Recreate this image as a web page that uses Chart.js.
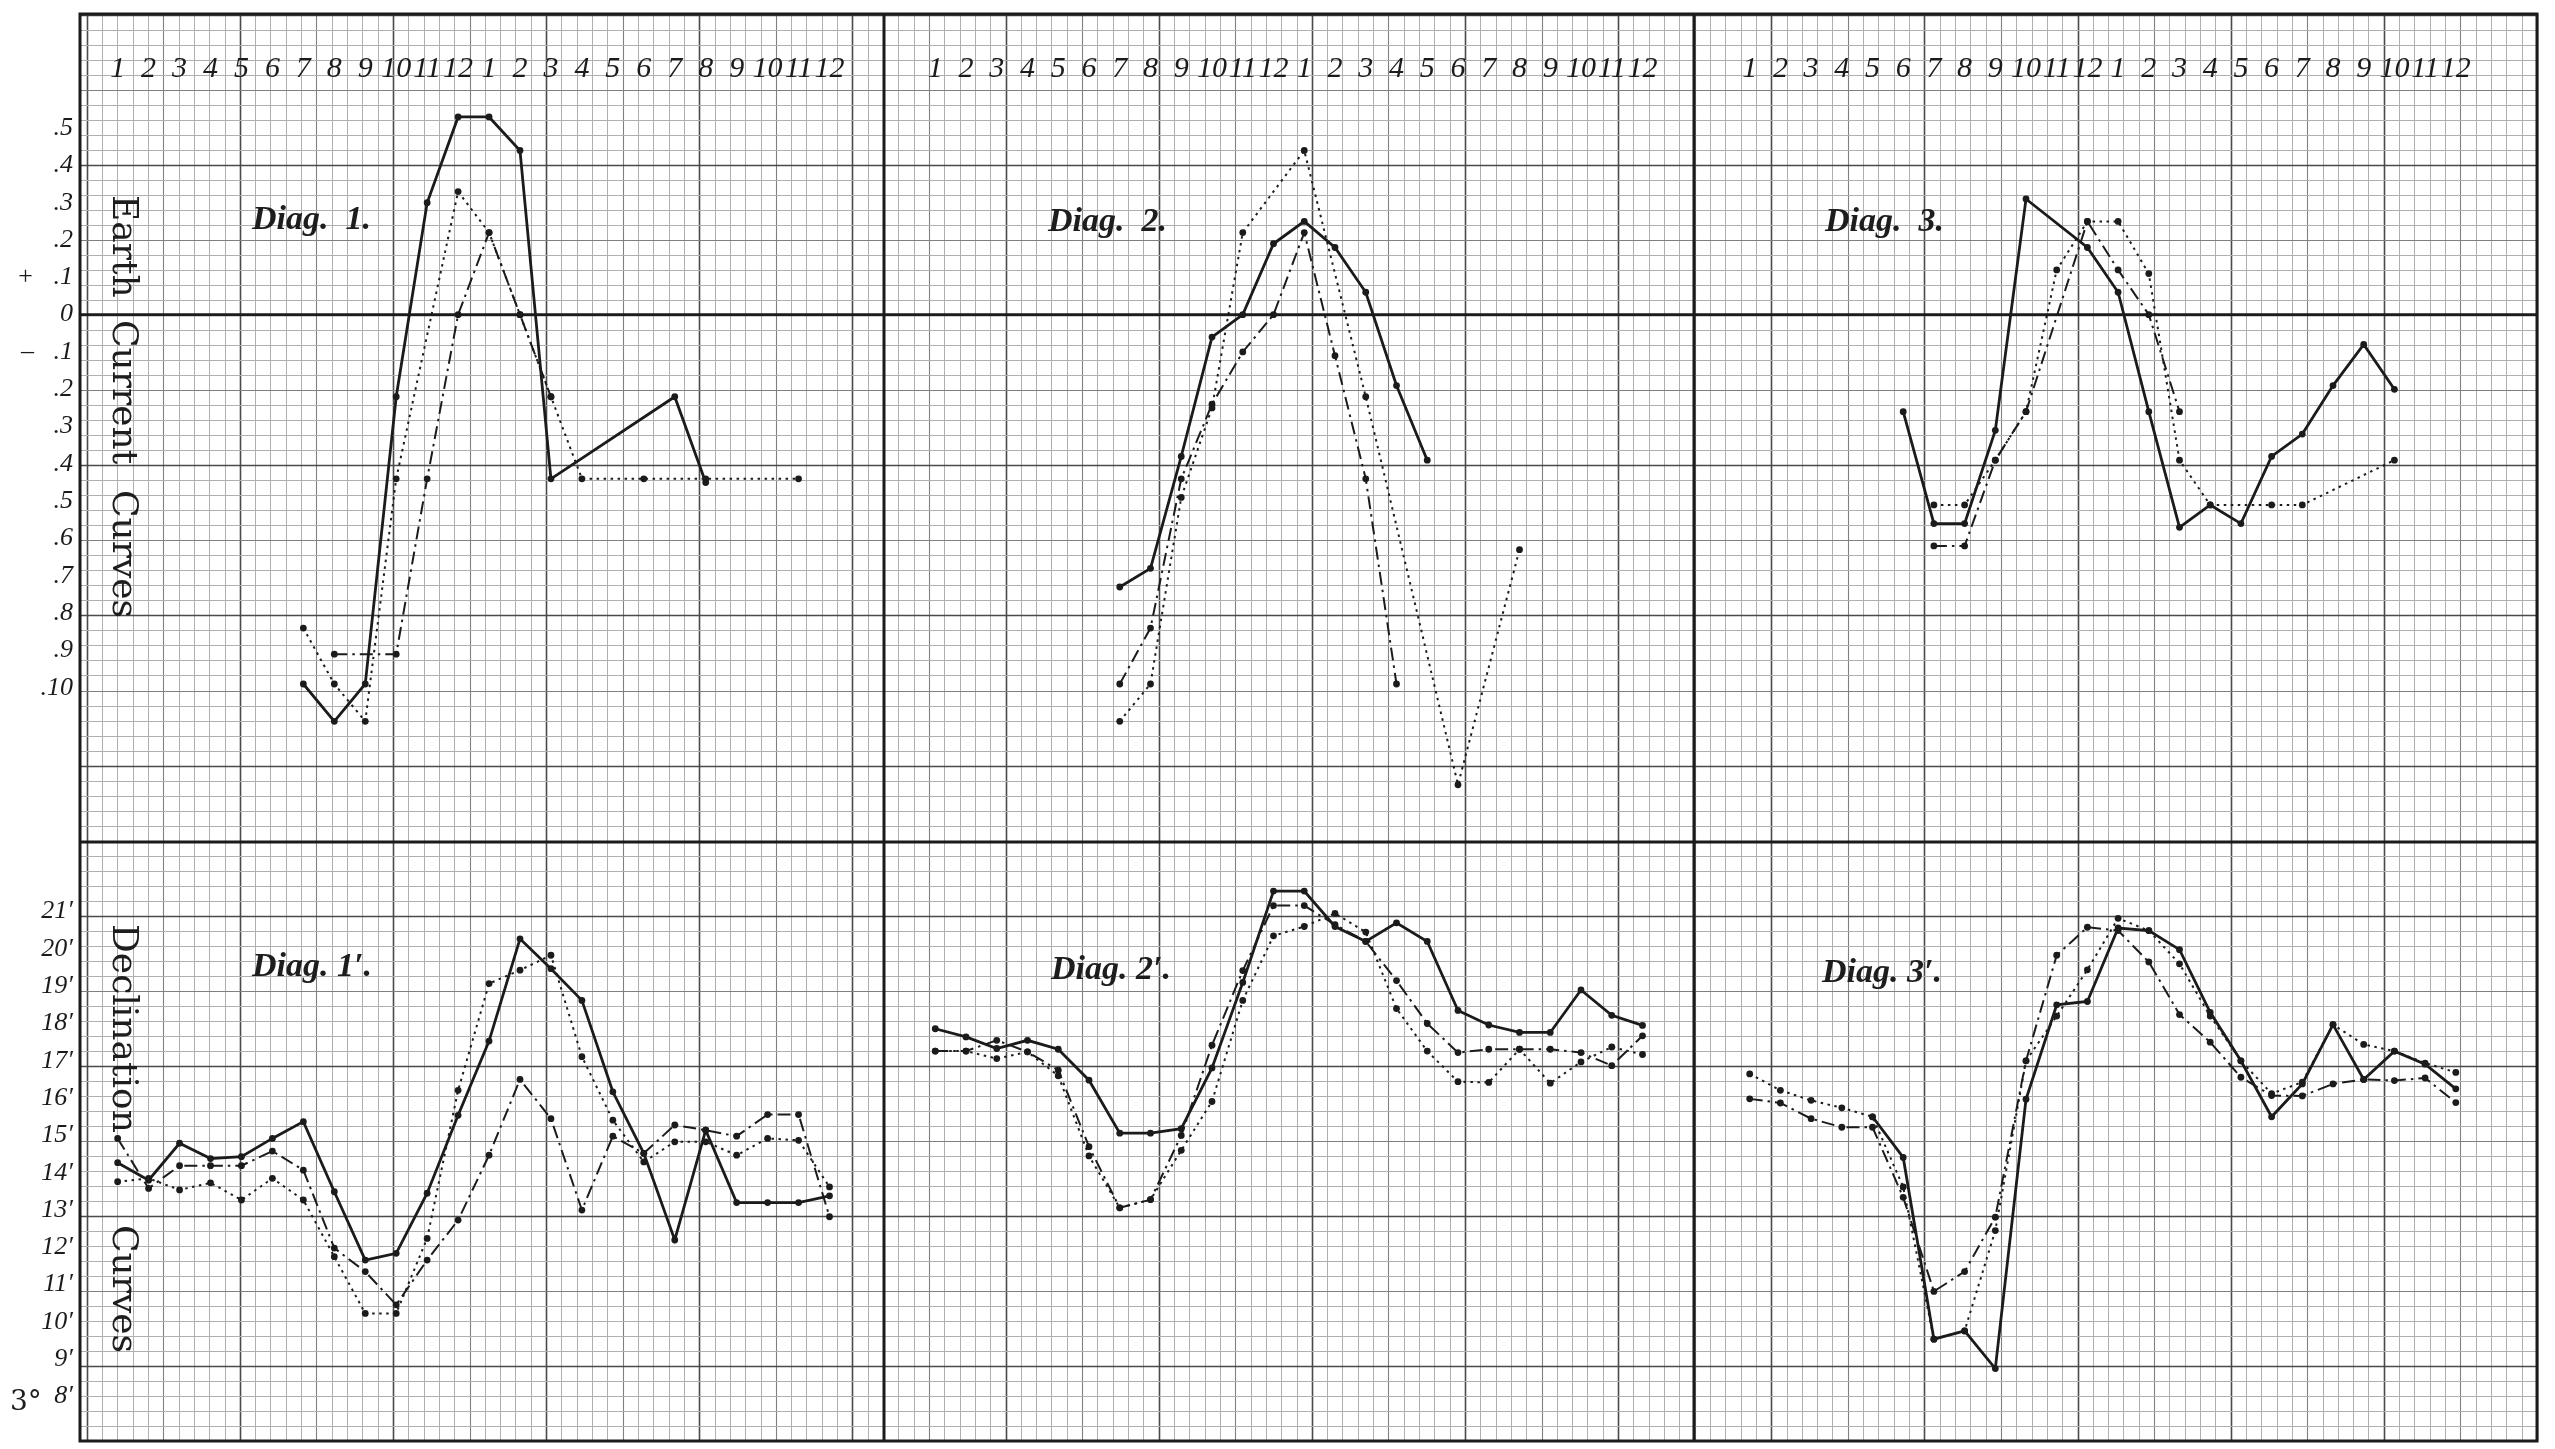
<!DOCTYPE html>
<html>
<head>
<meta charset="utf-8">
<script src="https://cdn.jsdelivr.net/npm/chart.js@4.4.1/dist/chart.umd.min.js"></script>
<style>
  html, body { margin: 0; padding: 0; background: #fff; }
  #sheet { position: relative; width: 2555px; height: 1449px; overflow: hidden; background: #fff; }
  #sheet canvas { position: absolute; left: 0; top: 0; }
  .lbl { position: absolute; white-space: nowrap; line-height: 1; color: #1d1d1d; }
  .diag { font: italic bold 34px 'Liberation Serif', serif; }
  .vert { writing-mode: vertical-rl; font: 36px 'DejaVu Serif', serif; }
  .deg { font: 28px 'DejaVu Serif', serif; }
</style>
</head>
<body>
<div id="sheet">
  <canvas id="curves" width="2555" height="1449"></canvas>

  <div class="lbl diag" style="left:252px;top:199px">Diag.&nbsp; 1.</div>
  <div class="lbl diag" style="left:1048px;top:201px">Diag.&nbsp; 2.</div>
  <div class="lbl diag" style="left:1825px;top:201px">Diag.&nbsp; 3.</div>
  <div class="lbl diag" style="left:252px;top:946px">Diag. 1′.</div>
  <div class="lbl diag" style="left:1051px;top:949px">Diag. 2′.</div>
  <div class="lbl diag" style="left:1822px;top:952px">Diag. 3′.</div>

  <div class="lbl vert" style="left:105px;top:195px">Earth</div>
  <div class="lbl vert" style="left:105px;top:320px">Current</div>
  <div class="lbl vert" style="left:105px;top:490px">Curves</div>
  <div class="lbl vert" style="left:105px;top:924px">Declination</div>
  <div class="lbl vert" style="left:105px;top:1225px">Curves</div>
  <div class="lbl deg" style="left:10px;top:1384px">3°</div>
</div>

<script>
// hours of the day, 1 a.m. ... 12 midnight
const hours = [1, 2, 3, 4, 5, 6, 7, 8, 9, 10, 11, 12, 13, 14, 15, 16, 17, 18, 19, 20, 21, 22, 23, 24];
const hourTickLabels = ['1', '2', '3', '4', '5', '6', '7', '8', '9', '10', '11', '12',
                        '1', '2', '3', '4', '5', '6', '7', '8', '9', '10', '11', '12'];

// earth current scale (left, top row)
const earthTickValues = [0.5, 0.4, 0.3, 0.2, 0.1, 0, -0.1, -0.2, -0.3, -0.4, -0.5, -0.6, -0.7, -0.8, -0.9, -1.0];
const earthTickLabels = ['.5', '.4', '.3', '.2', '+\u2002 .1', '0', '–\u2002 .1', '.2', '.3', '.4',
                         '.5', '.6', '.7', '.8', '.9', '.10'];

// declination scale (left, bottom row), minutes past 3°
const declTickValues = [21, 20, 19, 18, 17, 16, 15, 14, 13, 12, 11, 10, 9, 8];
const declTickLabels = ['21′', '20′', '19′', '18′', '17′', '16′', '15′', '14′', '13′', '12′', '11′', '10′', '9′', '8′'];

// ---- Earth current curves (one value per hour, null = no reading) ----
const diag1Solid   = [null, null, null, null, null, null, -0.99, -1.09, -0.99, -0.22, 0.30, 0.53, 0.53, 0.44, -0.44, null, null, null, -0.22, -0.45, null, null, null, null];
const diag1Dotted  = [null, null, null, null, null, null, -0.84, -0.99, -1.09, -0.44, null, 0.33, 0.22, 0.0, -0.22, -0.44, null, -0.44, null, -0.44, null, null, -0.44, null];
const diag1DashDot = [null, null, null, null, null, null, null, -0.91, null, -0.91, -0.44, 0.0, 0.22, 0.0, -0.22, null, null, null, null, null, null, null, null, null];

const diag2Solid   = [null, null, null, null, null, null, -0.73, -0.68, -0.38, -0.06, 0.0, 0.19, 0.25, 0.18, 0.06, -0.19, -0.39, null, null, null, null, null, null, null];
const diag2Dotted  = [null, null, null, null, null, null, -1.09, -0.99, -0.49, -0.25, 0.22, null, 0.44, null, -0.22, null, null, -1.26, null, -0.63, null, null, null, null];
const diag2DashDot = [null, null, null, null, null, null, -0.99, -0.84, -0.44, -0.24, -0.10, 0.0, 0.22, -0.11, -0.44, -0.99, null, null, null, null, null, null, null, null];

const diag3Solid   = [null, null, null, null, null, -0.26, -0.56, -0.56, -0.31, 0.31, null, 0.18, 0.06, -0.26, -0.57, -0.51, -0.56, -0.38, -0.32, -0.19, -0.08, -0.20, null, null];
const diag3Dotted  = [null, null, null, null, null, null, -0.51, -0.51, -0.39, -0.26, 0.12, 0.25, 0.25, 0.11, -0.39, -0.51, null, -0.51, -0.51, null, null, -0.39, null, null];
const diag3DashDot = [null, null, null, null, null, null, -0.62, -0.62, -0.39, -0.26, null, 0.25, 0.12, 0.0, -0.26, null, null, null, null, null, null, null, null, null];

// ---- Declination curves (minutes) ----
const diag1pSolid   = [14.27, 13.80, 14.79, 14.38, 14.43, 14.92, 15.37, 13.49, 11.66, 11.84, 13.45, 15.54, 17.53, 20.27, 19.47, 18.62, 16.17, 14.52, 12.20, 15.14, 13.20, 13.20, 13.20, 13.38];
const diag1pDotted  = [13.76, 13.85, 13.54, 13.73, 13.27, 13.85, 13.27, 11.75, 10.23, 10.23, 12.24, 16.21, 19.07, 19.43, 19.83, 17.11, 15.41, 14.29, 14.83, 14.83, 14.47, 14.92, 14.87, 13.62];
const diag1pDashDot = [14.92, 13.58, 14.19, 14.19, 14.19, 14.58, 14.07, 11.98, 11.35, 10.46, 11.66, 12.73, 14.47, 16.50, 15.45, 13.00, 14.98, 14.52, 15.28, 15.14, 14.98, 15.56, 15.56, 12.82];

const diag2pSolid   = [17.86, 17.64, 17.33, 17.55, 17.31, 16.48, 15.06, 15.06, 15.18, 16.81, 19.10, 21.55, 21.55, 20.60, 20.20, 20.70, 20.20, 18.35, 17.96, 17.76, 17.76, 18.90, 18.22, 17.95];
const diag2pDotted  = [17.26, 17.26, 17.06, 17.24, 16.60, 14.45, 13.06, 13.28, 14.60, 15.91, 18.62, 20.35, 20.60, 20.95, 20.45, 18.40, 17.26, 16.44, 16.42, 17.31, 16.40, 16.97, 17.37, 17.17];
const diag2pDashDot = [17.26, 17.26, 17.55, 17.24, 16.75, 14.70, 13.06, 13.28, 15.00, 17.42, 19.42, 21.16, 21.16, 20.65, 20.20, 19.15, 18.00, 17.22, 17.31, 17.31, 17.31, 17.22, 16.87, 17.67];

const diag3pSolid   = [null, null, null, null, 15.50, 14.41, 9.54, 9.76, 8.75, 15.97, 18.50, 18.59, 20.56, 20.49, 19.98, 18.30, 17.00, 15.50, 16.38, 17.97, 16.50, 17.26, 16.91, 16.25];
const diag3pDotted  = [16.65, 16.21, 15.94, 15.74, 15.50, 13.62, 9.54, 9.76, 12.45, 17.00, 18.20, 19.44, 20.82, 20.49, 19.60, 18.20, 17.00, 16.12, 16.43, 17.97, 17.44, 17.26, 16.94, 16.69];
const diag3pDashDot = [15.98, 15.87, 15.45, 15.22, 15.22, 13.34, 10.82, 11.35, 12.81, 17.00, 19.83, 20.58, 20.49, 19.65, 18.24, 17.50, 16.56, 16.07, 16.06, 16.38, 16.50, 16.47, 16.54, 15.88];

// ---- sheet geometry (pixels) ----
const INK = '#1b1b1b';
const FRAME = { left: 80, top: 14, right: 2537, bottom: 1441 };
const ROW_SPLIT = 842;
const COL_SPLITS = [884, 1694];
const panelZeroX = [86.7, 904.5, 1719];     // where hour 0 falls in each column
const panelHourPx = [30.95, 30.75, 30.7];
const EARTH_ZERO_Y = 315, EARTH_PX = 375.5;  // 0.1 -> 37.55 px
const DECL_REF = 13, DECL_REF_Y = 1216.2, DECL_PX = 37.55;
const HOUR_AXIS_Y = 50;
const LABEL_RIGHT_X = 73;
const GRID = { x0: 86.7, cellX: 15.314, y0: 315, cellY: 15.02 };

function setRule(ctx, i) {
  const k = ((i % 10) + 10) % 10;
  if (k === 0) { ctx.strokeStyle = '#4a4a4a'; ctx.lineWidth = 1.6; }
  else if (k === 5) { ctx.strokeStyle = '#808080'; ctx.lineWidth = 1.1; }
  else { ctx.strokeStyle = '#b0b0b0'; ctx.lineWidth = 1; }
}

function rule(ctx, x1, y1, x2, y2) {
  ctx.beginPath(); ctx.moveTo(x1, y1); ctx.lineTo(x2, y2); ctx.stroke();
}

// squared paper + the heavy rules
const paperPlugin = {
  id: 'paper',
  beforeDraw(chart) {
    const ctx = chart.ctx;
    ctx.save();
    ctx.fillStyle = '#ffffff';
    ctx.fillRect(0, 0, chart.width, chart.height);

    for (let i = Math.ceil((FRAME.left - GRID.x0) / GRID.cellX); GRID.x0 + i * GRID.cellX < FRAME.right; i++) {
      const x = Math.round(GRID.x0 + i * GRID.cellX) + 0.5;
      setRule(ctx, i);
      rule(ctx, x, FRAME.top, x, FRAME.bottom);
    }
    for (let j = Math.ceil((FRAME.top - GRID.y0) / GRID.cellY); GRID.y0 + j * GRID.cellY < FRAME.bottom; j++) {
      const y = Math.round(GRID.y0 + j * GRID.cellY) + 0.5;
      setRule(ctx, j);
      rule(ctx, FRAME.left, y, FRAME.right, y);
    }

    ctx.strokeStyle = INK;
    ctx.lineWidth = 3;
    ctx.strokeRect(FRAME.left, FRAME.top, FRAME.right - FRAME.left, FRAME.bottom - FRAME.top);
    rule(ctx, FRAME.left, ROW_SPLIT, FRAME.right, ROW_SPLIT);
    COL_SPLITS.forEach(x => rule(ctx, x, FRAME.top, x, FRAME.bottom));
    // zero line of the earth current curves
    const y0 = chart.scales.yE.getPixelForValue(0);
    ctx.lineWidth = 2.6;
    rule(ctx, FRAME.left, y0, FRAME.right, y0);
    ctx.restore();
  }
};

const STYLES = {
  solid:   { borderWidth: 2.8, borderDash: [] },
  dotted:  { borderWidth: 2.0, borderDash: [2.5, 4.5] },
  dashDot: { borderWidth: 2.0, borderDash: [13, 5, 2.5, 5] }
};

function series(values, style, xAxisID, yAxisID) {
  return {
    data: hours.map((h, i) => ({ x: h, y: values[i] })).filter(p => p.y !== null),
    xAxisID: xAxisID,
    yAxisID: yAxisID,
    borderColor: INK,
    backgroundColor: INK,
    pointBackgroundColor: INK,
    pointBorderWidth: 0,
    pointRadius: 3.4,
    pointHoverRadius: 3.4,
    tension: 0,
    fill: false,
    ...STYLES[style]
  };
}

const earthY = v => (EARTH_ZERO_Y - v) / EARTH_PX;   // pixel -> earth value
const tickFont = { family: "'Liberation Serif', serif", size: 26, style: 'italic' };

function hourAxis(p) {
  return {
    type: 'linear', axis: 'x', bounds: 'data',
    min: (FRAME.left - panelZeroX[p]) / panelHourPx[p],
    max: (FRAME.right - panelZeroX[p]) / panelHourPx[p],
    position: { yE: earthY(HOUR_AXIS_Y) },
    grid: { display: false, drawTicks: false },
    border: { display: false },
    afterBuildTicks: s => { s.ticks = hours.map(h => ({ value: h })); },
    ticks: {
      autoSkip: false, maxRotation: 0, padding: 0, color: INK,
      font: { family: "'Liberation Serif', serif", size: 30, style: 'italic' },
      callback: (v, i) => hourTickLabels[i]
    }
  };
}

const labelX = (LABEL_RIGHT_X - panelZeroX[0]) / panelHourPx[0];

const datasets = [
  series(diag1Dotted, 'dotted', 'x1', 'yE'),
  series(diag1DashDot, 'dashDot', 'x1', 'yE'),
  series(diag1Solid, 'solid', 'x1', 'yE'),
  series(diag2Dotted, 'dotted', 'x2', 'yE'),
  series(diag2DashDot, 'dashDot', 'x2', 'yE'),
  series(diag2Solid, 'solid', 'x2', 'yE'),
  series(diag3Dotted, 'dotted', 'x3', 'yE'),
  series(diag3DashDot, 'dashDot', 'x3', 'yE'),
  series(diag3Solid, 'solid', 'x3', 'yE'),
  series(diag1pDotted, 'dotted', 'x1', 'yD'),
  series(diag1pDashDot, 'dashDot', 'x1', 'yD'),
  series(diag1pSolid, 'solid', 'x1', 'yD'),
  series(diag2pDotted, 'dotted', 'x2', 'yD'),
  series(diag2pDashDot, 'dashDot', 'x2', 'yD'),
  series(diag2pSolid, 'solid', 'x2', 'yD'),
  series(diag3pDotted, 'dotted', 'x3', 'yD'),
  series(diag3pDashDot, 'dashDot', 'x3', 'yD'),
  series(diag3pSolid, 'solid', 'x3', 'yD')
];

new Chart(document.getElementById('curves'), {
  type: 'line',
  data: { datasets: datasets },
  options: {
    responsive: false,
    devicePixelRatio: 1,
    animation: false,
    events: [],
    layout: {
      padding: { left: FRAME.left, top: FRAME.top, right: 2555 - FRAME.right, bottom: 1449 - FRAME.bottom }
    },
    plugins: { legend: { display: false }, tooltip: { enabled: false }, title: { display: false } },
    scales: {
      x1: hourAxis(0),
      x2: hourAxis(1),
      x3: hourAxis(2),
      yE: {
        type: 'linear', axis: 'y', bounds: 'data',
        min: earthY(FRAME.bottom), max: earthY(FRAME.top),
        position: { x1: labelX },
        grid: { display: false, drawTicks: false },
        border: { display: false },
        afterBuildTicks: s => { s.ticks = earthTickValues.map(v => ({ value: v })); },
        ticks: { autoSkip: false, padding: 0, color: INK, font: tickFont, callback: (v, i) => earthTickLabels[i] }
      },
      yD: {
        type: 'linear', axis: 'y', bounds: 'data',
        min: DECL_REF - (FRAME.bottom - DECL_REF_Y) / DECL_PX,
        max: DECL_REF + (DECL_REF_Y - FRAME.top) / DECL_PX,
        position: { x1: labelX },
        grid: { display: false, drawTicks: false },
        border: { display: false },
        afterBuildTicks: s => { s.ticks = declTickValues.map(v => ({ value: v })); },
        ticks: { autoSkip: false, padding: 0, color: INK, font: tickFont, callback: (v, i) => declTickLabels[i] }
      }
    }
  },
  plugins: [paperPlugin]
});
</script>
</body>
</html>
